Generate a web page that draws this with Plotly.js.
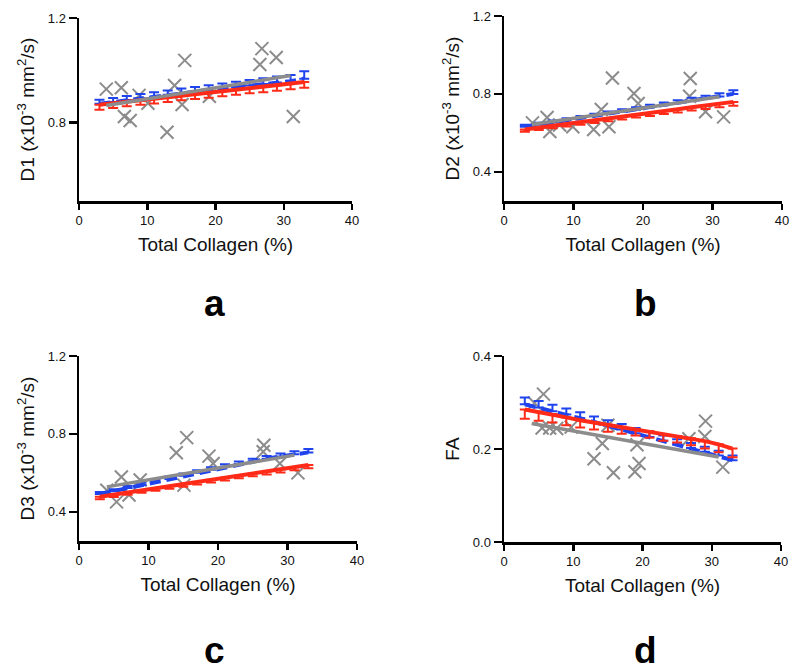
<!DOCTYPE html>
<html>
<head>
<meta charset="utf-8">
<script src="https://cdn.plot.ly/plotly-3.0.1.min.js"></script>
<style>html,body{margin:0;padding:0;background:#fff;}#chart{width:800px;height:671px;}</style>
</head>
<body>
<div id="chart"></div>
<script>
// ---- data ----
var fitX = [3, 5, 7, 9, 11, 13, 15, 17, 19, 21, 23, 25, 27, 29, 31, 33];

// Panel a: D1
var aObsX = [4.0, 6.2, 6.65, 7.5, 8.8, 10.1, 12.9, 14.0, 15.1, 15.5, 19.1, 26.5, 26.8, 28.9, 31.4];
var aObsY = [0.928, 0.933, 0.823, 0.808, 0.904, 0.874, 0.763, 0.942, 0.869, 1.038, 0.901, 1.022, 1.083, 1.049, 0.823];
var aRegX = [4, 31];
var aRegY = [0.865, 0.980];
var aBlue = [0.872, 0.879, 0.886, 0.893, 0.899, 0.906, 0.912, 0.918, 0.924, 0.930, 0.936, 0.942, 0.948, 0.953, 0.958, 0.968];
var aBlueErr = [0.015, 0.015, 0.016, 0.016, 0.017, 0.017, 0.018, 0.018, 0.019, 0.019, 0.020, 0.021, 0.022, 0.023, 0.024, 0.028];
var aRed = [0.868, 0.874, 0.880, 0.886, 0.891, 0.897, 0.903, 0.909, 0.914, 0.920, 0.926, 0.932, 0.937, 0.943, 0.949, 0.955];
var aRedErr = [0.019, 0.018, 0.018, 0.018, 0.018, 0.018, 0.018, 0.019, 0.019, 0.019, 0.020, 0.020, 0.021, 0.021, 0.022, 0.022];

// Panel b: D2
var bObsX = [4.1, 6.2, 6.6, 8.0, 9.9, 12.9, 14.0, 15.1, 15.6, 18.7, 19.3, 26.7, 26.8, 29.0, 31.6];
var bObsY = [0.651, 0.679, 0.607, 0.640, 0.631, 0.617, 0.720, 0.631, 0.882, 0.802, 0.751, 0.788, 0.879, 0.708, 0.682];
var bRegX = [4, 31];
var bRegY = [0.643, 0.785];
var bBlue = [0.631, 0.642, 0.653, 0.664, 0.675, 0.686, 0.697, 0.708, 0.719, 0.730, 0.742, 0.753, 0.764, 0.775, 0.786, 0.800];
var bBlueErr = [0.010, 0.010, 0.011, 0.011, 0.012, 0.012, 0.012, 0.013, 0.013, 0.014, 0.014, 0.015, 0.016, 0.016, 0.017, 0.019];
var bRed = [0.617, 0.626, 0.636, 0.645, 0.655, 0.664, 0.674, 0.683, 0.693, 0.702, 0.712, 0.721, 0.731, 0.740, 0.750, 0.759];
var bRedErr = [0.012, 0.012, 0.012, 0.013, 0.013, 0.013, 0.014, 0.014, 0.014, 0.015, 0.015, 0.016, 0.016, 0.017, 0.018, 0.020];

// Panel c: D3
var cObsX = [4.0, 5.4, 6.1, 7.2, 8.8, 14.0, 15.1, 15.5, 18.7, 19.3, 26.5, 26.6, 28.9, 31.5];
var cObsY = [0.511, 0.451, 0.579, 0.486, 0.563, 0.703, 0.537, 0.781, 0.686, 0.648, 0.708, 0.742, 0.648, 0.600];
var cRegX = [4, 31];
var cRegY = [0.528, 0.691];
var cBlue = [0.491, 0.506, 0.522, 0.538, 0.553, 0.569, 0.585, 0.601, 0.616, 0.631, 0.645, 0.659, 0.672, 0.684, 0.695, 0.705];
var cBlueErr = [0.010, 0.010, 0.011, 0.011, 0.011, 0.012, 0.012, 0.012, 0.013, 0.013, 0.013, 0.014, 0.014, 0.015, 0.016, 0.017];
var cRed = [0.477, 0.488, 0.499, 0.510, 0.521, 0.531, 0.542, 0.553, 0.564, 0.575, 0.586, 0.597, 0.607, 0.618, 0.629, 0.640];
var cRedErr = [0.012, 0.012, 0.012, 0.012, 0.013, 0.013, 0.013, 0.013, 0.014, 0.014, 0.014, 0.015, 0.015, 0.016, 0.016, 0.017];

// Panel d: FA
var dObsX = [4.4, 5.7, 5.5, 6.6, 7.6, 9.7, 13.0, 14.2, 15.0, 15.8, 18.9, 19.2, 19.5, 26.7, 29.0, 29.1, 31.6];
var dObsY = [0.299, 0.318, 0.245, 0.245, 0.244, 0.247, 0.179, 0.212, 0.251, 0.149, 0.151, 0.209, 0.169, 0.222, 0.227, 0.260, 0.161];
var dRegX = [4, 31];
var dRegY = [0.255, 0.183];
var dBlue = [0.296, 0.289, 0.281, 0.274, 0.266, 0.258, 0.250, 0.242, 0.234, 0.226, 0.218, 0.210, 0.202, 0.194, 0.186, 0.176];
var dBlueErr = [0.015, 0.014, 0.014, 0.013, 0.013, 0.012, 0.012, 0.012, 0.011, 0.011, 0.011, 0.011, 0.011, 0.011, 0.010, 0.010];
var dRed = [0.285, 0.280, 0.275, 0.268, 0.262, 0.257, 0.252, 0.248, 0.243, 0.238, 0.232, 0.228, 0.223, 0.217, 0.210, 0.201];
var dRedErr = [0.020, 0.019, 0.018, 0.017, 0.016, 0.015, 0.015, 0.015, 0.014, 0.014, 0.014, 0.014, 0.015, 0.016, 0.017, 0.019];

var xTitle = 'Total Collagen (%)';
var yTitles = ['D1 (x10<sup>-3</sup> mm<sup>2</sup>/s)', 'D2 (x10<sup>-3</sup> mm<sup>2</sup>/s)', 'D3 (x10<sup>-3</sup> mm<sup>2</sup>/s)', 'FA'];
var panelLetters = ['a', 'b', 'c', 'd'];
var xTicks = [0, 10, 20, 30, 40];

// ---- styles ----
var GRAY = '#8c8c8c', BLUE = '#1f44ee', RED = '#ff2a17';
var FONT = 'Liberation Sans, Arial, Helvetica, sans-serif';

var panels = [
  {obsX: aObsX, obsY: aObsY, regX: aRegX, regY: aRegY, blue: aBlue, blueErr: aBlueErr, red: aRed, redErr: aRedErr},
  {obsX: bObsX, obsY: bObsY, regX: bRegX, regY: bRegY, blue: bBlue, blueErr: bBlueErr, red: bRed, redErr: bRedErr},
  {obsX: cObsX, obsY: cObsY, regX: cRegX, regY: cRegY, blue: cBlue, blueErr: cBlueErr, red: cRed, redErr: cRedErr},
  {obsX: dObsX, obsY: dObsY, regX: dRegX, regY: dRegY, blue: dBlue, blueErr: dBlueErr, red: dRed, redErr: dRedErr}
];

function zeros(n) { var z = []; for (var i = 0; i < n; i++) z.push(0); return z; }

var traces = [];
panels.forEach(function (p, i) {
  var xa = i === 0 ? 'x' : 'x' + (i + 1);
  var ya = i === 0 ? 'y' : 'y' + (i + 1);
  traces.push({x: p.obsX, y: p.obsY, xaxis: xa, yaxis: ya, type: 'scatter', mode: 'markers',
    marker: {symbol: 'x-thin-open', size: 13, color: GRAY, line: {color: GRAY, width: 2}}, hoverinfo: 'skip'});
  traces.push({x: fitX, y: p.blue, xaxis: xa, yaxis: ya, type: 'scatter', mode: 'lines',
    line: {color: BLUE, width: 4, dash: '11px,6px'},
    error_y: {type: 'data', symmetric: false, array: p.blueErr, arrayminus: zeros(p.blue.length), color: BLUE, thickness: 2, width: 5}});
  traces.push({x: fitX, y: p.red, xaxis: xa, yaxis: ya, type: 'scatter', mode: 'lines',
    line: {color: RED, width: 4},
    error_y: {type: 'data', symmetric: false, array: zeros(p.red.length), arrayminus: p.redErr, color: RED, thickness: 2, width: 5}});
  traces.push({x: p.regX, y: p.regY, xaxis: xa, yaxis: ya, type: 'scatter', mode: 'lines',
    line: {color: GRAY, width: 3.5}});
});

function xAxis(domain, anchor) {
  return {domain: domain, anchor: anchor, range: [0, 40], tickvals: xTicks, ticks: 'outside', ticklen: 6, tickwidth: 2.5,
    showline: true, linewidth: 2.5, linecolor: '#000', tickcolor: '#000', showgrid: false, zeroline: false,
    tickfont: {family: FONT, size: 13, color: '#111'},
    title: {text: xTitle, font: {family: FONT, size: 19, color: '#111'}, standoff: 11}};
}
function yAxis(domain, anchor, range, tv, tt, title) {
  return {domain: domain, anchor: anchor, range: range, tickvals: tv, ticktext: tt, ticks: 'outside', ticklen: 8, tickwidth: 2.5,
    showline: true, linewidth: 2.5, linecolor: '#000', tickcolor: '#000', showgrid: false, zeroline: false,
    tickfont: {family: FONT, size: 13, color: '#111'},
    title: {text: title, font: {family: FONT, size: 19, color: '#111'}, standoff: 8}};
}

var W = 800, H = 671;
function dx(a, b) { return [a / W, b / W]; }
function dy(top, bottom) { return [1 - bottom / H, 1 - top / H]; }

var annotations = [];
var letterPos = [[214, 303], [645, 303], [214, 650], [645, 650]];
panelLetters.forEach(function (t, i) {
  annotations.push({text: '<b>' + t + '</b>', xref: 'paper', yref: 'paper', x: letterPos[i][0] / W, y: 1 - letterPos[i][1] / H,
    xanchor: 'center', yanchor: 'middle', showarrow: false, font: {family: FONT, size: 37, color: '#000'}});
});

var layout = {
  width: W, height: H, margin: {l: 0, r: 0, t: 0, b: 0}, showlegend: false,
  paper_bgcolor: '#fff', plot_bgcolor: '#fff',
  xaxis: xAxis(dx(79, 352), 'y'),
  yaxis: yAxis(dy(18, 201), 'x', [0.5, 1.2], [0.8, 1.2], ['0.8', '1.2'], yTitles[0]),
  xaxis2: xAxis(dx(504, 782), 'y2'),
  yaxis2: yAxis(dy(16, 201), 'x2', [0.25, 1.2], [0.4, 0.8, 1.2], ['0.4', '0.8', '1.2'], yTitles[1]),
  xaxis3: xAxis(dx(79, 357), 'y3'),
  yaxis3: yAxis(dy(356, 541), 'x3', [0.25, 1.2], [0.4, 0.8, 1.2], ['0.4', '0.8', '1.2'], yTitles[2]),
  xaxis4: xAxis(dx(504, 781), 'y4'),
  yaxis4: yAxis(dy(356, 542), 'x4', [0, 0.4], [0, 0.2, 0.4], ['0.0', '0.2', '0.4'], yTitles[3]),
  annotations: annotations
};

Plotly.newPlot('chart', traces, layout, {staticPlot: true, displayModeBar: false});
</script>
</body>
</html>
